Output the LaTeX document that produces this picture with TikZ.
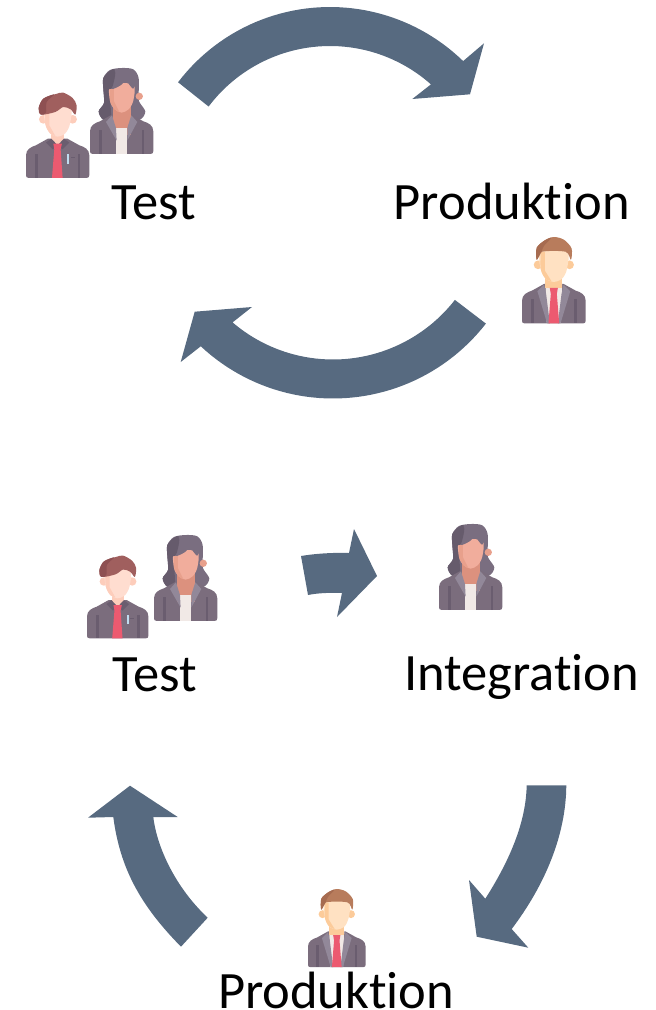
\documentclass[tikz,border=0pt]{standalone}
\usepackage{fontspec}
\setmainfont[RawFeature={-liga}]{Carlito}
\definecolor{arrowblue}{HTML}{576A80}
\definecolor{jacket}{HTML}{7B6D7D}
\definecolor{jacketdark}{HTML}{6A5D6F}
\definecolor{lapel}{HTML}{928899}
\definecolor{tiered}{HTML}{EC5A70}
\definecolor{wface}{HTML}{F1AD9C}
\definecolor{wshade}{HTML}{E8A08C}
\definecolor{wneck}{HTML}{DC917E}
\definecolor{whair}{HTML}{7A6E80}
\definecolor{whairdark}{HTML}{665B6C}
\definecolor{mface}{HTML}{FFDDD0}
\definecolor{mshade}{HTML}{FDCDBB}
\definecolor{mhair}{HTML}{A05F5E}
\definecolor{mhairdark}{HTML}{8E5052}
\definecolor{pface}{HTML}{FFE1C2}
\definecolor{pshade}{HTML}{FCCB9A}
\definecolor{phair}{HTML}{B87C5C}
\definecolor{phairdark}{HTML}{A66B50}
\definecolor{shirt}{HTML}{F1E9E6}
\definecolor{penblue}{HTML}{BFDDF0}
\newcommand{\suitbody}{%
    \fill[jacket] (8,258) .. controls (2,258) and (0,255) .. (0,250) -- (0,190) .. controls (0,172) and (15,165) .. (30,160) -- (66,140) -- (124,140) -- (160,160) .. controls (176,165) and (190,172) .. (190,190) -- (190,250) .. controls (190,255) and (188,258) .. (182,258) -- cycle;
    \fill[jacketdark] (28,185) rectangle (36,258);
    \fill[jacketdark] (155,185) rectangle (163,258);
}
\tikzset{
  flow/.style={fill=arrowblue,draw=none},
  label/.style={anchor=base,inner sep=0pt,font=\fontsize{52.5}{60}\selectfont,text=black},
  womanfig/.pic={
    \fill[whair] plot[smooth cycle] coordinates {(40,30) (60,6) (95,0) (130,4) (146,30) (146,90) (150,105) (166,130) (155,152) (125,160) (65,160) (38,154) (26,130) (42,105) (40,65)};
    \fill[whairdark] plot[smooth cycle] coordinates {(40,30) (60,8) (75,4) (66,30) (64,60) (62,110) (62,155) (38,154) (26,130) (42,105) (40,62)};
    \suitbody
    \fill[wneck] (68,115) rectangle (122,200);
    \fill[shirt] (78,180) -- (112,180) -- (112,258) -- (78,258) -- cycle;
    \fill[lapel] (66,142) -- (48,162) -- (80,218) -- (78,180) -- cycle;
    \fill[lapel] (124,142) -- (142,162) -- (112,218) -- (112,180) -- cycle;
    \fill[wshade] (148,85) circle[radius=11];
    \fill[wface] plot[smooth cycle] coordinates {(62,50) (130,50) (130,98) (116,124) (95,134) (74,124) (60,98)};
    \fill[wshade] plot[smooth] coordinates {(62,50) (60,98) (74,124) (88,132)} -- (72,100) -- (72,50) -- cycle;
    \fill[whair] plot[smooth cycle] coordinates {(62,20) (125,15) (136,40) (130,62) (118,50) (108,38) (92,52) (64,62)};
    \fill[whairdark] plot[smooth cycle] coordinates {(50,20) (75,10) (72,40) (64,62) (48,60)};
  },
  mantestfig/.pic={
    \suitbody
    \fill[mshade] (76,120) rectangle (114,160);
    \fill[jacketdark] (60,152) -- (76,140) -- (95,160) -- (114,140) -- (130,152) -- (110,172) -- (95,162) -- (80,172) -- cycle;
    \fill[tiered] (82,155) -- (108,155) -- (104,172) -- (110,258) -- (78,258) -- (85,172) -- cycle;
    \fill[penblue] (123,187) rectangle (130,215);
    \fill[jacketdark] (134,194) rectangle (146,199);
    \fill[mshade] (52,82) circle[radius=13];
    \fill[mshade] (140,82) circle[radius=13];
    \fill[mface] plot[smooth cycle] coordinates {(58,45) (132,45) (132,96) (118,124) (95,134) (72,124) (58,96)};
    \fill[mshade] plot[smooth] coordinates {(58,45) (58,96) (72,124) (88,132)} -- (70,100) -- (70,45) -- cycle;
    \fill[mhair] plot[smooth cycle] coordinates {(38,48) (52,20) (90,6) (112,2) (140,18) (152,40) (148,68) (134,52) (112,45) (88,60) (45,68)};
    \fill[mhairdark] plot[smooth cycle] coordinates {(38,48) (52,20) (85,7) (62,30) (60,62) (45,68)};
  },
  manprodfig/.pic={
    \suitbody
    \fill[shirt] (70,138) -- (120,138) -- (116,258) -- (74,258) -- cycle;
    \fill[lapel] (66,142) -- (46,162) -- (75,258) -- (83,258) -- (72,170) -- cycle;
    \fill[lapel] (124,142) -- (144,162) -- (115,258) -- (107,258) -- (118,170) -- cycle;
    \fill[pshade] (70,115) rectangle (120,152);
    \fill[tiered] (83,152) -- (107,152) -- (104,170) -- (111,258) -- (79,258) -- (86,170) -- cycle;
    \fill[pshade] (48,83) circle[radius=13];
    \fill[pshade] (142,83) circle[radius=13];
    \fill[pface] plot[smooth cycle] coordinates {(56,45) (134,45) (134,96) (120,124) (95,134) (70,124) (56,96)};
    \fill[pshade] plot[smooth] coordinates {(56,45) (56,96) (70,124) (88,132)} -- (68,100) -- (68,45) -- cycle;
    \fill[phair] plot[smooth cycle] coordinates {(44,68) (44,32) (68,10) (95,0) (125,8) (148,34) (146,68) (130,44) (60,44)};
    \fill[phairdark] plot[smooth cycle] coordinates {(44,68) (44,32) (68,10) (88,2) (66,26) (58,44)};
  },
}
\begin{document}
\begin{tikzpicture}[x=1pt,y=-1pt]
\useasboundingbox (0,0) rectangle (656,1010);
% top loop
\fill[flow] plot[domain=-142.7:-45.8,samples=50] ({330+191*cos(\x)},{198+191*sin(\x)}) -- (484,43.3) -- (470,94.3) -- (412.3,99) -- (432.3,83.3) -- plot[domain=-48:-143,samples=50] ({330+152*cos(\x)},{198+152*sin(\x)}) -- cycle;
\fill[flow] plot[domain=37.8:133.1,samples=50] ({333+193.5*cos(\x)},{205+193.5*sin(\x)}) -- (180.7,362) -- (194.7,311.7) -- (252,307) -- (232.7,322.3) -- plot[domain=130.5:37.9,samples=50] ({333+154.5*cos(\x)},{205+154.5*sin(\x)}) -- cycle;
% bottom loop
\fill[flow] (301,556) .. controls (316,553.5) and (333,552.5) .. (349,553) -- (354,529) -- (377,576) -- (337,617) -- (342,593) .. controls (330,592.5) and (318,593) .. (308,595) -- cycle;
\fill[flow] (526.7,785.3) -- (566.3,785.3) .. controls (566,835) and (545,885) .. (511.7,929) -- (528.3,947.7) -- (476.7,936.7) -- (469,880) -- (485.3,898.7) .. controls (510,860) and (526,822) .. (526.7,785.3) -- cycle;
\fill[flow] (130,785.7) -- (177.7,817) -- (153.3,817) .. controls (157,848) and (176,888) .. (207.7,917.7) -- (181,946.7) .. controls (140,905) and (120,868) .. (113.3,817) -- (88,817.7) -- cycle;
% people
\pic[scale=.333] at (90,68) {womanfig};
\pic[scale=.333] at (26,92) {mantestfig};
\pic[scale=.335] at (522,237) {manprodfig};
\pic[scale=.333] at (154,535) {womanfig};
\pic[scale=.323] at (87,555) {mantestfig};
\pic[scale=.333] at (439,524) {womanfig};
\pic[scale=.303] at (308,889) {manprodfig};
% labels
\node[label] (test1) at (153.5,219.5) {Test};
\node[label] (prod1) at (511.7,219.5) {Produktion};
\node[label] (test2) at (155,691) {Test};
\node[label] (integ) at (521.7,690.5) {Integration};
\node[label] (prod2) at (336,1008) {Produktion};
\end{tikzpicture}
\end{document}
